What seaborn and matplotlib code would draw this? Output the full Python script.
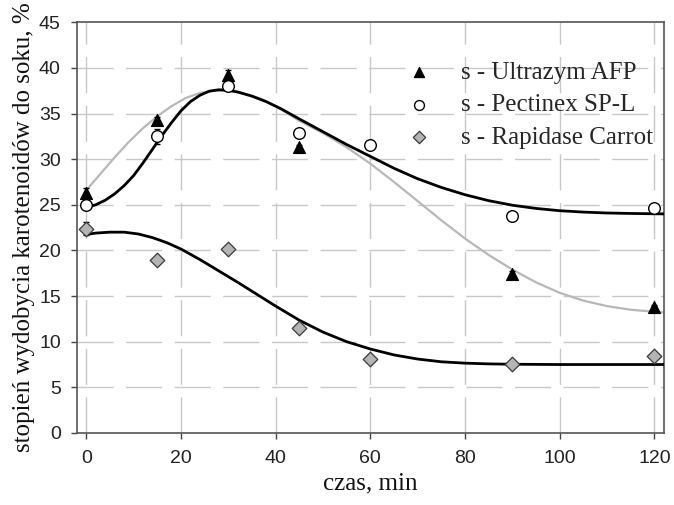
import matplotlib
matplotlib.use("Agg")
import numpy as np
import pandas as pd
import seaborn as sns
from matplotlib import pyplot as plt

# punkty pomiarowe
czas_u = [0, 15, 30, 45, 90, 120]
ultrazym = [26.3, 34.3, 39.2, 31.3, 17.4, 13.8]
ultrazym_err = [0.5, 0.3, 0.55, 0.3, 0.3, 0.2]

czas_p = [0, 15, 30, 45, 60, 90, 120]
pectinex = [25.0, 32.5, 38.0, 32.9, 31.5, 23.8, 24.6]
pectinex_err = [0.3, 0.8, 0.3, 0.2, 0.2, 0.2, 0.2]

czas_r = [0, 15, 30, 45, 60, 90, 120]
rapidase = [22.4, 18.9, 20.2, 11.5, 8.1, 7.6, 8.4]
rapidase_err = [0.7, 0.2, 0.2, 0.2, 0.2, 0.2, 0.2]

# krzywe dopasowania
fit_p_x = [0, 2, 4, 6, 8, 10, 12, 14, 16, 18, 20, 22, 24, 26, 28, 30, 32, 35, 38, 41, 45,
           50, 55, 60, 65, 70, 75, 80, 85, 90, 95, 100, 105, 110, 115, 122]
fit_p_y = [24.7, 25.0, 25.5, 26.2, 27.1, 28.2, 29.6, 31.1, 32.6, 34.0, 35.3, 36.3, 37.0, 37.45, 37.6,
           37.55, 37.35, 36.9, 36.3, 35.55, 34.4, 33.0, 31.6, 30.3, 29.0, 27.85, 26.9, 26.1, 25.45,
           24.95, 24.6, 24.35, 24.2, 24.1, 24.05, 24.0]

fit_u_x = [0, 3, 6, 9, 12, 15, 18, 21, 24, 27, 30, 33, 37, 41, 45, 50, 55, 60, 65, 70, 75,
           80, 85, 90, 95, 100, 105, 110, 115, 122]
fit_u_y = [26.6, 28.4, 30.2, 31.9, 33.4, 34.7, 35.8, 36.7, 37.25, 37.5, 37.5, 37.25, 36.6, 35.5, 34.2,
           32.85, 31.3, 29.5, 27.5, 25.4, 23.3, 21.3, 19.5, 17.9, 16.5, 15.35, 14.5, 13.9, 13.5, 13.2]

fit_r_x = [0, 2, 5, 8, 11, 14, 17, 20, 24, 28, 32, 36, 40, 45, 50, 55, 60, 65, 70, 75, 80,
           85, 90, 100, 110, 122]
fit_r_y = [21.75, 21.9, 22.0, 22.0, 21.8, 21.4, 20.85, 20.15, 19.0, 17.75, 16.5, 15.2, 13.9, 12.35,
           11.05, 10.0, 9.2, 8.55, 8.1, 7.8, 7.65, 7.57, 7.53, 7.5, 7.5, 7.5]

etykiety = ['s - Ultrazym AFP', 's - Pectinex SP-L', 's - Rapidase Carrot']

sns.set_theme(style="white")
plt.rcParams['font.family'] = ['Liberation Serif', 'DejaVu Serif']

fig = plt.figure(figsize=(6.74, 5.05), dpi=100)
ax = fig.add_axes([0.114, 0.1426, 0.871, 0.8134])

# siatka
for v in range(0, 121, 20):
    ax.axvline(v, color='#c8c8c8', lw=1.0, dashes=(26, 9), zorder=0)
for v in range(5, 45, 5):
    ax.axhline(v, color='#c8c8c8', lw=1.0, dashes=(26, 9), zorder=0)

# krzywe
sns.lineplot(x=fit_u_x, y=fit_u_y, ax=ax, color='#b8b8b8', lw=1.6, sort=False, zorder=2)
sns.lineplot(x=fit_p_x, y=fit_p_y, ax=ax, color='black', lw=2.0, sort=False, zorder=3)
sns.lineplot(x=fit_r_x, y=fit_r_y, ax=ax, color='black', lw=2.0, sort=False, zorder=3)
for ln in ax.get_lines():
    ln.set_solid_joinstyle('round')

# słupki błędów
ax.errorbar(czas_u, ultrazym, yerr=ultrazym_err, fmt='none', ecolor='black', elinewidth=1, capsize=2.5, zorder=4)
ax.errorbar(czas_p, pectinex, yerr=pectinex_err, fmt='none', ecolor='black', elinewidth=1, capsize=2.5, zorder=4)
ax.errorbar(czas_r, rapidase, yerr=rapidase_err, fmt='none', ecolor='black', elinewidth=1, capsize=2.5, zorder=4)

# punkty
sns.scatterplot(x=czas_u, y=ultrazym, ax=ax, marker='^', s=75, color='black', edgecolor='black',
                linewidth=0.8, label=etykiety[0], zorder=5)
sns.scatterplot(x=czas_p, y=pectinex, ax=ax, marker='o', s=70, color='white', edgecolor='black',
                linewidth=1.0, label=etykiety[1], zorder=5)
sns.scatterplot(x=czas_r, y=rapidase, ax=ax, marker='D', s=55, color='#b4b4b4', edgecolor='#3a3a3a',
                linewidth=0.9, label=etykiety[2], zorder=5)

ax.set_xlim(-2, 122)
ax.set_ylim(0, 45)
ax.set_xticks(range(0, 121, 20))
ax.set_yticks(range(0, 46, 5))
for lab in ax.get_xticklabels() + ax.get_yticklabels():
    lab.set_fontfamily(['Liberation Sans', 'DejaVu Sans'])
    lab.set_fontsize(14)
    lab.set_color('#222222')
ax.tick_params(axis='both', direction='out', length=4.5, width=1, color='#444444',
               bottom=True, left=True)
ax.tick_params(axis='x', pad=8)
ax.tick_params(axis='y', pad=7)

for sp in ax.spines.values():
    sp.set_color('#555555')
    sp.set_linewidth(1.2)

ax.set_xlabel('czas, min', fontsize=18, labelpad=4, color='#111111')
ax.set_ylabel('stopień wydobycia karotenoidów do soku, %', fontsize=18, labelpad=3, color='#111111')

ax.legend(loc='upper left', bbox_to_anchor=(0.54, 0.935), frameon=False, fontsize=18,
          borderpad=0, handlelength=1.0, handletextpad=1.2, labelspacing=0.4, markerscale=0.85)

fig.savefig('out.png', dpi=100)
